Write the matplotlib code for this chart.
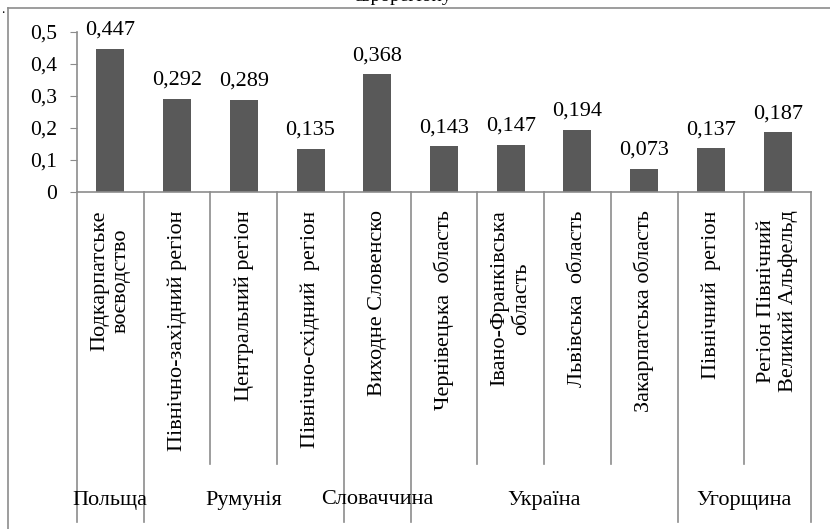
import matplotlib.pyplot as plt
from matplotlib.ticker import FuncFormatter
from matplotlib.lines import Line2D

plt.rcParams['font.family'] = 'serif'
plt.rcParams['font.serif'] = ['Liberation Serif', 'DejaVu Serif']

# дані
regions = [
    'Подкарпатське\nвоєводство',
    'Північно-західний регіон',
    'Центральний регіон',
    'Північно-східний  регіон',
    'Виходне Словенско',
    'Чернівецька  область',
    'Івано-Франківська\nобласть',
    'Львівська  область',
    'Закарпатська область',
    'Північний  регіон',
    'Регіон Північний\nВеликий Альфельд',
]
values = [0.447, 0.292, 0.289, 0.135, 0.368, 0.143, 0.147, 0.194, 0.073, 0.137, 0.187]
countries = ['Польща', 'Румунія', 'Словаччина', 'Україна', 'Угорщина']
country_sizes = [1, 3, 1, 4, 2]
yticks = [0, 0.1, 0.2, 0.3, 0.4, 0.5]

W, H = 830, 529
fig = plt.figure(figsize=(W / 100, H / 100), dpi=100)

# рамка навколо діаграми
grey = '#8c8c8c'
fig.add_artist(Line2D([8 / W, 8 / W], [0, 1 - 8 / H], color=grey, lw=1.2))
fig.add_artist(Line2D([8 / W, 1], [1 - 8 / H, 1 - 8 / H], color=grey, lw=1.2))
fig.text(403 / W, 1 - 5 / H, 'єврорегіону', ha='center', va='bottom', fontsize=14)
fig.text(3 / W, 1 - 16 / H, '.', ha='center', va='bottom', fontsize=10)

ax = fig.add_axes([77 / W, (H - 192) / H, (811 - 77) / W, 160 / H])
x = list(range(len(values)))
ax.bar(x, values, width=0.42, color='#595959')
ax.set_xlim(-0.5, len(values) - 0.5)
ax.set_ylim(0, 0.5)
ax.set_yticks(yticks)
ax.yaxis.set_major_formatter(FuncFormatter(lambda v, p: f'{v:g}'.replace('.', ',')))
ax.tick_params(axis='y', labelsize=15.5, direction='out', length=5, color=grey, pad=9.5)
ax.set_xticks([])
for s in ['top', 'right']:
    ax.spines[s].set_visible(False)
for s in ['left', 'bottom']:
    ax.spines[s].set_color(grey)
    ax.spines[s].set_linewidth(1.2)

for xi, v in zip(x, values):
    ax.annotate(f'{v:.3f}'.replace('.', ','), (xi, v), xytext=(0, 6.5),
                textcoords='offset points', ha='center', va='bottom', fontsize=16)

# підписи регіонів
tr = ax.get_xaxis_transform()
for xi, name in zip(x, regions):
    ax.text(xi, -0.115, name, transform=tr, rotation=90, ha='center', va='top',
            multialignment='center', fontsize=16, clip_on=False)

# розділювачі та назви країн
bounds = [0]
for n in country_sizes:
    bounds.append(bounds[-1] + n)
for i in range(len(values) + 1):
    low = -2.06 if i in bounds else -1.7
    ax.plot([i - 0.5, i - 0.5], [0, low], transform=tr, color=grey, lw=1.2, clip_on=False)
for c, a, b in zip(countries, bounds[:-1], bounds[1:]):
    ax.text((a + b - 1) / 2, -1.925, c, transform=tr, ha='center', va='center',
            fontsize=16, clip_on=False)

fig.savefig('out.png', dpi=100)
